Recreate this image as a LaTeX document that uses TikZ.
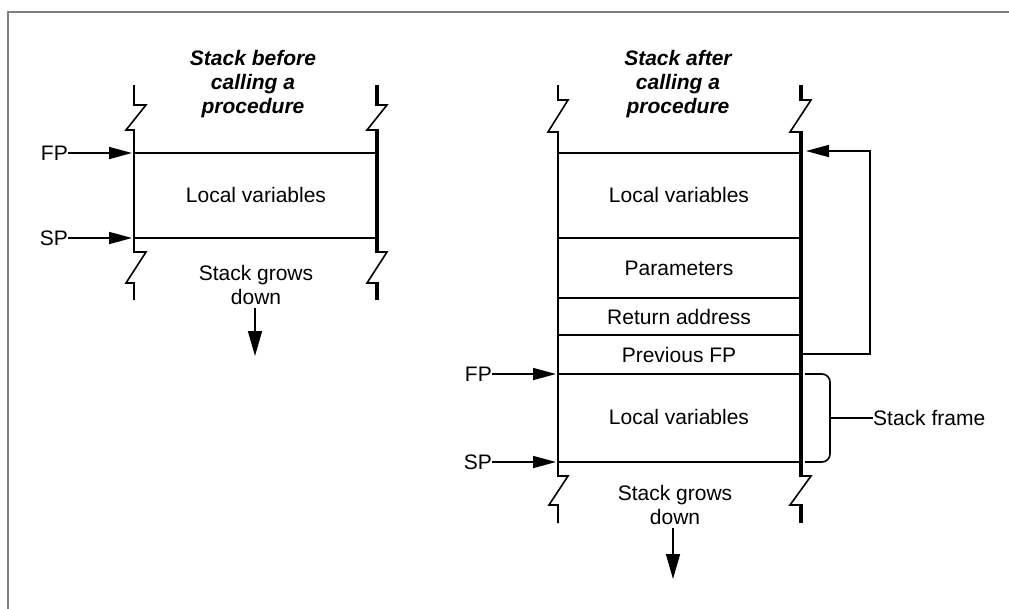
\documentclass[tikz,border=0pt]{standalone}
\usepackage{fontspec}
\setmainfont{Liberation Sans}
\usetikzlibrary{arrows.meta}
\begin{document}
\begin{tikzpicture}[x=1pt,y=-1pt,
  thinln/.style={line width=1.6pt},
  thickln/.style={line width=4pt},
  ptr/.style={line width=1.6pt,-{Triangle[length=23pt,width=12pt]},shorten >=2pt},
  downptr/.style={line width=1.6pt,-{Triangle[length=25pt,width=14pt]}},
  lbl/.style={font=\fontsize{21}{24}\selectfont, inner sep=0pt},
  ttl/.style={font=\fontsize{21}{24}\selectfont\bfseries\itshape, align=center, inner sep=0pt},
]
\useasboundingbox (0,0) rectangle (1009,608);
\fill[white] (0,0) rectangle (1009,608);
% frame
\draw[line width=2.5pt, gray, line cap=rect] (1012,12) -- (8,12) -- (8,612);

% ---------- stack before the call ----------
\node[ttl, anchor=north] (t1) at (253,50) {Stack before\\calling a\\procedure};
\coordinate (a1) at (134,153); \coordinate (a2) at (377,153);
\coordinate (b1) at (134,238); \coordinate (b2) at (377,238);
% left wall with break marks
\draw[thinln] (134,85) -- (134,105) -- (146,105) -- (126,130) -- (134,130)
  -- (134,252) -- (146,252) -- (126,283) -- (134,283) -- (134,300);
% right wall (heavy) with break marks
\draw[thickln] (377,85) -- (377,106);
\draw[thinln] (377,105) -- (387,105) -- (367,130) -- (377,130);
\draw[thickln] (377,129) -- (377,253);
\draw[thinln] (377,252) -- (387,252) -- (367,283) -- (377,283);
\draw[thickln] (377,282) -- (377,300);
% cell boundaries
\draw[thinln] (a1) -- (a2);
\draw[thinln] (b1) -- (b2);
\node[lbl] (lv1) at (256,195) {Local variables};
\node[lbl, anchor=east] (fp1) at (68,153) {FP};
\node[lbl, anchor=east] (sp1) at (68,238) {SP};
\draw[ptr] (fp1.east) -- (a1);
\draw[ptr] (sp1.east) -- (b1);
\node[lbl, align=center, anchor=north] (g1) at (256,265) {Stack grows\\down};
\coordinate (g1end) at (255,356);
\draw[downptr] (g1.south -| g1end) ++(0,3) -- (g1end);

% ---------- stack after the call ----------
\node[ttl, anchor=north] (t2) at (678,50) {Stack after\\calling a\\procedure};
\coordinate (c1) at (558,153); \coordinate (c2) at (801,153);
\coordinate (d1) at (558,238); \coordinate (d2) at (801,238);
\coordinate (e1) at (558,298); \coordinate (e2) at (801,298);
\coordinate (f1) at (558,335); \coordinate (f2) at (801,335);
\coordinate (h1) at (558,374); \coordinate (h2) at (801,374);
\coordinate (k1) at (558,462); \coordinate (k2) at (801,462);
% left wall with break marks
\draw[thinln] (558,85) -- (558,100) -- (568,100) -- (548,132) -- (558,132)
  -- (558,476) -- (568,476) -- (549,505) -- (558,505) -- (558,523);
% right wall (heavy) with break marks
\draw[thickln] (801,85) -- (801,101);
\draw[thinln] (801,100) -- (811,100) -- (790,132) -- (801,132);
\draw[thickln] (801,131) -- (801,477);
\draw[thinln] (801,476) -- (811,476) -- (790,505) -- (801,505);
\draw[thickln] (801,504) -- (801,523);
% cell boundaries
\foreach \p in {c,d,e,f,h,k} \draw[thinln] (\p1) -- (\p2);
\node[lbl] (lv2) at (679,195) {Local variables};
\node[lbl] (par) at (679,268) {Parameters};
\node[lbl] (ret) at (679,317) {Return address};
\node[lbl] (pfp) at (679,355) {Previous FP};
\node[lbl] (lv3) at (679,417) {Local variables};
\node[lbl, anchor=east] (fp2) at (492,374) {FP};
\node[lbl, anchor=east] (sp2) at (492,462) {SP};
\draw[ptr] (fp2.east) -- (h1);
\draw[ptr] (sp2.east) -- (k1);
% saved frame pointer links back to the caller's frame
\coordinate (pfpR) at (801,354);
\coordinate (loop) at (870,354);
\coordinate (oldfp) at (806,151);
\draw[ptr, shorten >=0pt] (pfpR) -- (loop) |- (oldfp);
% brace marking the current frame
\draw[thinln, rounded corners=8pt] (805,374) -| (830,462) -- (805,462);
\node[lbl, anchor=west] (sf) at (873,418) {Stack frame};
\draw[thinln] (830,418) -- (sf.west);
\node[lbl, align=center, anchor=north] (g2) at (675,485) {Stack grows\\down};
\coordinate (g2end) at (673,579);
\draw[downptr] (g2.south -| g2end) ++(0,3) -- (g2end);
\end{tikzpicture}
\end{document}
